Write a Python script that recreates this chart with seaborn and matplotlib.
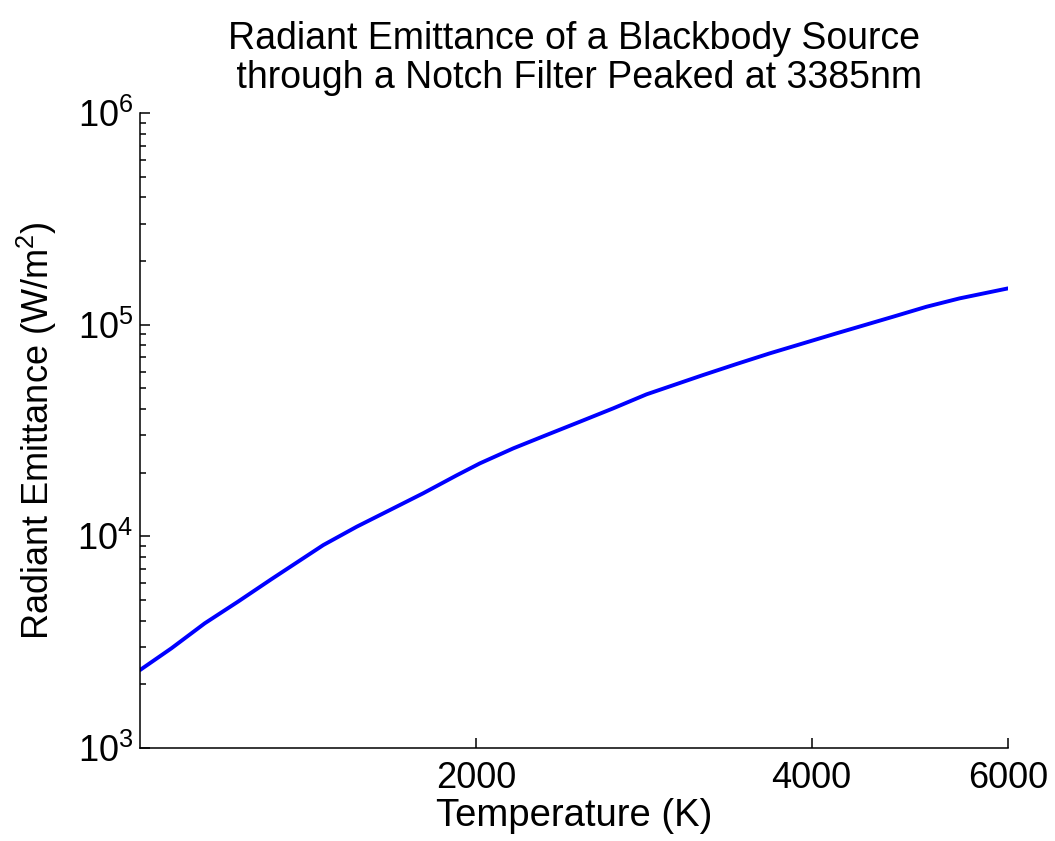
import matplotlib
matplotlib.use("Agg")
import matplotlib.pyplot as plt
import matplotlib.ticker as mticker
import numpy as np
import pandas as pd
import seaborn as sns

# Data
temperature_K = [1000, 1067, 1143, 1224, 1311, 1460, 1564, 1675, 1794,
                 1922, 2017, 2161, 2314, 2479, 2656, 2845, 3197, 3425,
                 3668, 3930, 4210, 4448, 4732, 5070, 5429, 6000]
emittance_Wm2 = [2335, 2958, 3882, 4911, 6264, 9096, 11100, 13310, 15970,
                 19400, 22120, 26040, 30100, 34780, 40240, 46860, 57800, 65150,
                 73150, 81570, 90960, 99030, 109000, 121500, 133100, 148400]
x_ticks = [2000, 4000, 6000]
x_tick_labels = ["2000", "4000", "6000"]

title_text = "Radiant Emittance of a Blackbody Source\n through a Notch Filter Peaked at 3385nm"
x_label = "Temperature (K)"
y_label = "Radiant Emittance (W/m$^2$)"

sns.set_style("ticks")
plt.rcParams['font.family'] = ['Liberation Sans', 'DejaVu Sans']
plt.rcParams['mathtext.fontset'] = 'custom'
plt.rcParams['mathtext.rm'] = 'Liberation Sans'
plt.rcParams['mathtext.it'] = 'Liberation Sans'
plt.rcParams['mathtext.default'] = 'regular'
plt.rcParams['text.color'] = 'black'
plt.rcParams['axes.labelcolor'] = 'black'

df = pd.DataFrame({"T": temperature_K, "M": emittance_Wm2})

fig = plt.figure(figsize=(10.55, 8.41), dpi=100)
ax = fig.add_axes([140/1055, (841-748)/841, (1008-140)/1055, (748-113)/841])

sns.lineplot(data=df, x="T", y="M", ax=ax, color="#0000ff", linewidth=2.8)

ax.set_xscale("log")
ax.set_yscale("log")
ax.set_xlim(1000, 6000)
ax.set_ylim(1e3, 1e6)

ax.xaxis.set_major_locator(mticker.FixedLocator(x_ticks))
ax.xaxis.set_major_formatter(mticker.FixedFormatter(x_tick_labels))
ax.xaxis.set_minor_locator(mticker.NullLocator())
ax.yaxis.set_major_locator(mticker.LogLocator(base=10, numticks=10))
ax.yaxis.set_minor_locator(mticker.LogLocator(base=10, subs=np.arange(2, 10), numticks=10))
ax.yaxis.set_minor_formatter(mticker.NullFormatter())

ax.tick_params(axis="both", which="major", direction="in", length=7, width=1.1,
               labelsize=26, color="black", labelcolor="black")
ax.tick_params(axis="x", which="major", pad=9)
ax.tick_params(axis="y", which="major", pad=5)
ax.tick_params(axis="y", which="minor", direction="in", length=4, width=1.1, color="black")

for s in ["left", "bottom"]:
    ax.spines[s].set_linewidth(1.1)
    ax.spines[s].set_color("black")
sns.despine(ax=ax)

ax.set_xlabel(x_label, fontsize=27.5, labelpad=2)
ax.set_ylabel(y_label, fontsize=26, labelpad=13)
ax.set_title(title_text, fontsize=27, pad=18, linespacing=1.1)

fig.savefig("out.png", dpi=100, facecolor="white")
